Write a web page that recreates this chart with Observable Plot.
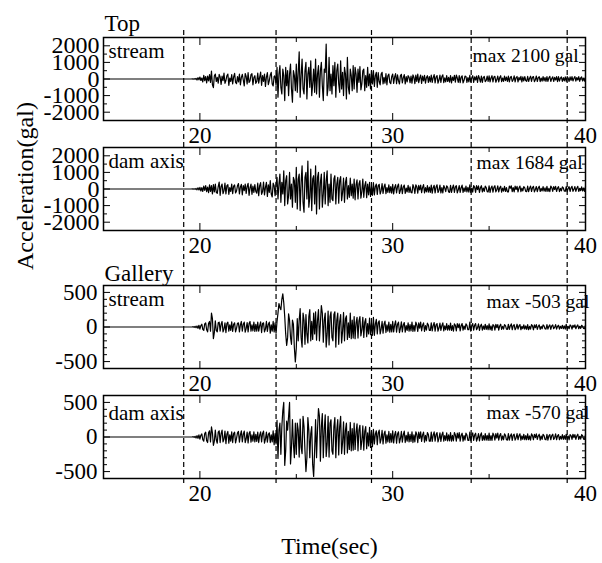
<!DOCTYPE html>
<html><head><meta charset="utf-8">
<script src="https://cdn.jsdelivr.net/npm/d3@7"></script>
<script src="https://cdn.jsdelivr.net/npm/@observablehq/plot@0.6"></script>
<style>
html,body{margin:0;padding:0;background:#fff;}
#chart{position:relative;width:602px;height:563px;font-family:"Liberation Serif","Times New Roman",serif;}
#chart svg{position:absolute;left:0;top:0;font-family:"Liberation Serif","Times New Roman",serif;}
</style></head><body><div id="chart"></div>
<script>
// time axis: leading quiet point at 15 s, then samples from t0 every dt (s)
const tStart = 15, t0 = 19.5, dt = 0.05;
const xLabelTicks = [20, 30, 40];
const xMinorTicks = [25, 35];
const markerTimes = [19.16, 23.95, 28.9, 34.07, 39.05];

const topLabels = [2000, 1000, 0, -1000, -2000];
const topMajor = [-2000, -1000, 0, 1000, 2000];
const topMinor = [-1500, -500, 500, 1500];
const galLabels = [500, 0, -500];
const galMajor = [-500, 0, 500];
const galMinor = [-400, -300, -200, -100, 100, 200, 300, 400];

// acceleration (gal), one row per second
const topStream = [
  0, 0, 5, -10, 20, -15, 40, -60, 80, -50,
  120, -90, 60, -180, 220, -100, 150, -240, 180, -120, 260, -200, 480, -350, -520, 200, 300, -150, 100, -250,
  280, 120, -320, 180, -100, 350, -260, -90, 200, 300, -380, 60, -150, 260, -300, 120, 340, -200, -280, 150,
  -180, 300, -350, 100, 280, -60, -420, 330, 150, -300, 380, -200, -120, 260, 320, -350, 90, 200, -260, -150,
  360, -250, 100, 420, -380, 200, -150, 300, -450, 120, 380, -340, -100, 250, 400, -300, -420, 150, 200, -380,
  700, -1100, 300, 800, -500, -900, 600, 200, -1300, 700, -400, 500, -1000, 300, 900, -600, -1400, 500, 200, -700,
  900, -800, 400, 1640, -1100, 200, 1200, -600, -900, 500, 1000, -1200, 300, 700, -500, 1100, -1000, -300, 600, -800,
  1200, -900, 300, 800, -1100, 500, 1000, -400, -1300, 600, 400, 2100, -1000, -500, 1300, -700, 300, -900, 800, -400,
  1000, -1100, 500, 900, -300, -800, 1100, -600, 400, -1000, 700, 300, -1200, 1300, -500, -900, 600, 200, -700, 800,
  -600, 700, 300, -800, 600, -200, 750, -650, -300, 500, 600, -700, 200, -500, 700, -400, 300, -600, 500, -300,
  500, -450, 200, 400, -500, 380, -150, -350, 300, 400, -300, 100, -250, 320, -350, 200, 300, -200, -280, 150,
  300, -260, 120, 320, -280, 250, -100, -300, 200, 280, -240, 80, 260, -300, 150, -180, 200, 100, -220, 180,
  -250, 250, 100, -280, 230, -150, 300, -220, 60, 240, -270, 180, -120, 220, -250, 90, 200, -200, 150, -180,
  240, -200, 80, 260, -230, 120, 210, -250, -60, 230, -200, 150, 250, -220, 70, -180, 200, -150, 100, -190,
  200, -230, 120, -90, 220, -190, 240, 60, -210, 200, -220, 110, 190, -230, -80, 180, 150, -200, 90, -170,
  220, -180, 70, 200, -210, 130, -60, 180, -200, 210, 40, -190, 170, -200, 100, 150, -160, -80, 180, -150,
  190, -170, 60, 200, -180, 120, 160, -190, -50, 180, -170, 90, 200, -160, 60, -140, 170, -100, 120, -150,
  170, -180, 90, 160, -150, -40, 190, -170, 80, 150, -180, 100, -60, 160, -170, 130, -120, 150, -90, -140,
  160, -150, 50, 170, -140, 110, 150, -160, -40, 180, -150, 80, 140, -160, 60, -130, 150, -110, 90, -140,
  150, -140, 70, 160, -150, 30, 130, -150, 100, -60, 140, -160, 150, -130, 50, 120, -140, 80, -110, 130,
  -140, 140, 60, -150, 130, -80, 140, -120, 40, 150, -130, 90, -60, 140, -140, 70, 130, -120, 50, -130,
  130
];
const topDam = [
  0, 0, 5, -10, 15, -20, 30, -50, 70, -60,
  100, -120, 80, -150, 180, -90, 200, -160, 120, -220, 250, -140, 200, -300, 260, -180, 300, -200, -260, 150,
  420, -380, 150, 300, -280, -100, 350, -300, 200, 260, -320, 80, -150, 300, -280, 180, 250, -240, -120, 200,
  330, -300, 120, 280, -350, 200, -100, 300, -260, 150, 340, -380, 60, 300, -320, 180, -200, 260, -150, -250,
  350, -400, 200, 380, -320, -150, 420, -360, 100, 400, -450, 250, -200, 500, -300, -480, 350, 200, -400, 300,
  700, -600, 300, 900, -800, 400, -300, 1100, -1000, 500, 800, -900, -400, 1000, -600, 300, -1100, 700, 500, -800,
  1300, -1200, 600, 900, -1300, 400, 1400, -800, -1400, 700, 1000, -600, 1684, -1100, -500, 1200, -1300, 600, 800, -900,
  1400, -1500, 700, 1000, -1200, 400, 900, -1100, -300, 1000, -900, 500, 1100, -1000, 300, -800, 900, -600, -700, 600,
  800, -900, 300, 700, -850, 500, 750, -700, -200, 650, -800, 400, 700, -600, 200, -500, 650, -400, 300, -550,
  600, -650, 250, 550, -600, 300, 500, -550, -150, 600, -500, 200, 450, -520, 300, -350, 400, -450, 150, -380,
  380, -350, 150, 300, -330, 200, 280, -300, -100, 320, -260, 120, 300, -280, 80, -200, 250, -220, 150, -250,
  280, -300, 100, 260, -240, 150, 300, -270, -80, 250, -280, 120, 240, -260, 60, -180, 220, -200, 130, -210,
  -230, 260, 90, -270, 250, 140, -250, 220, -60, 240, -220, 100, 260, -230, 80, -170, 200, -190, 120, -200,
  230, -250, 80, 220, -240, 120, 250, -210, -70, 230, -240, 90, -230, 210, 60, -160, 190, 110, -180, -200,
  220, -200, 70, 240, -210, 130, 200, -230, -50, 210, -200, 80, 230, -210, 70, -150, 180, -170, 100, -190,
  250, -210, 60, -190, 200, 110, -200, 210, -40, 190, -210, 70, 200, -180, 60, -140, 170, 90, -160, -180,
  190, -200, 60, 180, -190, 100, 200, -170, -40, 190, -180, 70, 170, -190, 50, -130, 160, -150, 80, -170,
  -170, 180, 50, 190, -160, 90, -180, 170, -30, 160, -170, 60, 180, -160, 50, -120, 150, 70, -140, -160,
  170, -160, 50, 180, -150, 80, 160, -170, -30, 150, -160, 60, 170, -150, 40, -120, 140, -130, 70, -150,
  160, -150, 40, -160, 170, 80, -140, 150, -30, 160, -150, 50, 140, -160, 40, -110, 130, 60, -120, -140,
  150, -160, 40, 140, -150, 70, 160, -140, -20, 150, -140, 50, 160, -150, 40, -100, 130, -120, 60, -140,
  140
];
const galStream = [
  0, 0, 0, 5, -5, 10, -10, 15, -20, 25,
  -30, 20, 40, -35, -50, 45, 60, -40, -70, 55, 80, -60, 200, 120, -170, -80, 90, -50, -70, 60,
  70, -60, 40, 80, -70, -30, 60, -80, 50, 70, -60, 30, -50, 75, -65, 40, 60, -70, -20, 55,
  60, -70, 30, 80, -60, 40, 70, -75, -20, 65, -70, 50, 80, -60, 30, -55, 70, -65, 40, -60,
  70, -60, 20, 75, -80, 50, 60, -70, -30, 80, -65, 40, 70, -90, 30, -60, 80, -70, 60, -90,
  80, 200, 340, 280, 250, 400, 480, 350, 150, -100, -265, -150, 190, 100, -150, -250, 100, 40, -300, -505,
  -300, 120, -200, 100, 265, -150, -290, 200, 100, -250, 180, -100, -230, 150, 250, -200, 80, -180, 200, -100,
  220, -190, 100, 250, -200, 60, 310, 200, -220, 100, 200, -290, -100, 230, -260, 150, 220, -150, -200, 180,
  220, -290, 100, 200, -250, 80, 180, -230, -60, 210, -200, 120, 160, -180, 60, -150, 200, -170, 100, -160,
  150, -170, 60, 140, -160, 90, 150, -130, -40, 140, -150, 70, 120, -140, 50, -100, 130, -110, 60, -120,
  140, -120, 40, 110, -100, 60, 90, -100, -30, 80, -90, 40, 85, -80, 30, -60, 70, -75, 40, -70,
  80, -70, 30, 90, -75, 40, 70, -80, -20, 75, -70, 30, 65, -75, 20, -50, 60, -60, 35, -55,
  70, -65, 25, -60, 70, 30, -65, 60, -15, 70, -55, 25, 60, -65, 20, -45, 55, 30, -50, -50,
  60, -55, 20, 65, -60, 30, 50, -60, -15, 55, -50, 20, 60, -55, 15, -40, 50, -45, 25, -45,
  55, -50, 20, -60, 45, 25, -55, 50, -10, 45, -55, 20, 50, -45, 15, -35, 45, 25, -40, -40,
  70, -60, 20, 50, -45, 25, 50, -40, -10, 45, -50, 15, 40, -45, 15, -35, 40, -35, 20, -40,
  45, -40, 15, -50, 35, 20, -45, 40, -10, 35, -45, 15, 40, -35, 10, -30, 35, 20, -30, -35,
  40, -35, 15, 45, -40, 20, 35, -40, -10, 40, -30, 15, 35, -40, 10, -25, 30, -30, 15, -35,
  35, -40, 10, -30, 35, 15, -40, 30, -10, 35, -35, 10, 30, -35, 10, -25, 30, 15, -25, -30,
  35, -30, 10, 30, -35, 15, 30, -25, -5, 35, -30, 10, 25, -30, 10, -20, 25, -25, 15, -30,
  40, -30, 10, -25, 30, 15, -30, 25, -5, 30, -25, 10, 30, -25, 10, -20, 25, 10, -20, -25,
  25
];
const galDam = [
  0, 0, 0, 5, -5, 10, -15, 20, -20, 30,
  -30, 25, 45, -40, -60, 50, 70, -55, -80, 60, 90, -70, 145, 60, -120, -60, 100, -40, -90, 70,
  90, -80, 50, 100, -70, -30, 85, -95, 40, 80, -90, 30, -60, 75, -80, 50, 70, -85, -20, 60,
  80, -75, 30, 90, -70, 40, 85, -80, -25, 70, -85, 50, 80, -75, 30, -60, 75, -70, 40, -65,
  70, -80, 25, 75, -70, 50, 85, -90, -30, 70, -75, 40, 60, -80, 30, -70, 90, -110, 50, -100,
  240, -310, 100, 200, -250, 150, 380, 500, -410, -200, 230, 100, 300, 500, -390, -150, 250, -100, -300, 200,
  -250, 200, 100, -290, 260, -150, -240, 300, 150, -200, -500, -300, 280, 100, -300, 50, 150, -400, -570, -200,
  250, -300, 100, 410, 300, -350, 150, 340, -300, 100, 320, -280, -100, 300, -290, 200, 250, -200, -250, 150,
  280, -300, 100, 250, -260, 150, 300, -240, -80, 220, -250, 100, 200, -230, 80, -180, 210, -200, 120, -190,
  200, -180, 70, 190, -200, 100, 170, -180, -50, 160, -190, 80, 150, -170, 60, -130, 140, -150, 80, -140,
  110, -100, 40, 90, -110, 60, 100, -90, -30, 95, -100, 40, 85, -90, 30, -70, 80, -80, 50, -75,
  90, -85, 30, 80, -90, 45, 75, -85, -25, 80, -75, 35, 85, -80, 25, -60, 70, -70, 40, -65,
  75, -80, 30, -70, 75, 40, -80, 70, -20, 75, -65, 30, 70, -75, 25, -55, 65, 35, -60, -60,
  70, -65, 25, 75, -60, 35, 65, -70, -20, 60, -65, 30, 70, -60, 20, -50, 60, -55, 30, -55,
  65, -60, 25, -55, 65, 30, -60, 55, -15, 65, -60, 25, 55, -60, 20, -45, 55, 30, -50, -50,
  70, -55, 20, 60, -50, 30, 55, -60, -15, 50, -55, 25, 60, -50, 20, -45, 50, -45, 25, -50,
  55, -50, 20, -50, 55, 25, -45, 50, -15, 55, -45, 20, 50, -45, 15, -40, 45, 25, -40, -45,
  50, -45, 15, 45, -50, 25, 40, -45, -10, 50, -40, 20, 45, -45, 15, -35, 40, -40, 20, -40,
  45, -40, 15, -45, 45, 20, -40, 40, -10, 45, -35, 15, 40, -45, 15, -35, 40, 20, -35, -40,
  40, -45, 15, 35, -40, 20, 40, -35, -10, 45, -40, 15, 35, -40, 10, -30, 35, -35, 20, -35,
  40, -35, 15, -40, 35, 20, -35, 40, -10, 35, -35, 15, 40, -35, 10, -30, 35, 20, -30, -35,
  35
];

const W = 602, H = 563, ML = 103, MR = 17;
const FONT = "'Liberation Serif', 'Times New Roman', serif";
const root = document.getElementById("chart");

function panel(o) {
  const data = [{t: tStart, a: 0}, ...o.values.map((a, i) => ({t: +(t0 + i * dt).toFixed(2), a}))];
  const blank = () => "";
  const marks = [
    Plot.axisX(xLabelTicks, {anchor: "bottom", tickSize: 0, tickPadding: 6, fontSize: 23, fontFamily: FONT, tickFormat: d => String(d), label: null}),
    Plot.axisX(xLabelTicks, {anchor: "bottom", tickSize: -7, tickFormat: blank, label: null}),
    Plot.axisX(xMinorTicks, {anchor: "bottom", tickSize: -4, tickFormat: blank, label: null}),
    Plot.axisX(xLabelTicks, {anchor: "top", tickSize: -7, tickFormat: blank, label: null}),
    Plot.axisX(xMinorTicks, {anchor: "top", tickSize: -4, tickFormat: blank, label: null}),
    Plot.axisY(o.yLabels, {anchor: "left", tickSize: 0, tickPadding: o.pad, fontSize: o.yFont, fontFamily: FONT, tickFormat: d => String(d), label: null}),
    Plot.axisY(o.yMajor, {anchor: "left", tickSize: -7, tickFormat: blank, label: null}),
    Plot.axisY(o.yMinor, {anchor: "left", tickSize: -4, tickFormat: blank, label: null}),
    Plot.axisY(o.yMajor, {anchor: "right", tickSize: -7, tickFormat: blank, label: null}),
    Plot.axisY(o.yMinor, {anchor: "right", tickSize: -4, tickFormat: blank, label: null}),
    Plot.lineY(data, {x: "t", y: "a", stroke: "black", strokeWidth: 1.2}),
    Plot.frame({stroke: "black", strokeWidth: 1.5}),
    Plot.text([o.name], {frameAnchor: "top-left", dx: 5, dy: o.nameDy, lineAnchor: "bottom", textAnchor: "start", fontSize: 21, fontFamily: FONT}),
    Plot.text([o.max], {frameAnchor: "top-right", dx: o.maxDx, dy: o.maxDy, lineAnchor: "bottom", textAnchor: "start", fontSize: 19.5, fontFamily: FONT})
  ];
  if (o.group) marks.push(Plot.text([o.group], {frameAnchor: "top-left", dx: 1, dy: o.groupDy, lineAnchor: "bottom", textAnchor: "start", fontSize: 23, fontFamily: FONT}));
  return Plot.plot({
    width: W, height: H, marginLeft: ML, marginRight: MR, marginTop: o.top, marginBottom: H - o.bottom,
    style: `background: transparent; font-family: ${FONT}; font-size: 23px; overflow: visible; color: black;`,
    x: {domain: [15, 40]},
    y: {domain: o.yDomain},
    marks
  });
}

const panels = [
  {values: topStream, yDomain: [-2500, 2500], yLabels: topLabels, yMajor: topMajor, yMinor: topMinor, yFont: 24, pad: 4,
   name: "stream", max: "max 2100 gal", group: "Top", groupDy: -7, top: 37, bottom: 120, nameDy: 20, maxDy: 24, maxDx: -113},
  {values: topDam, yDomain: [-2500, 2500], yLabels: topLabels, yMajor: topMajor, yMinor: topMinor, yFont: 24, pad: 4,
   name: "dam axis", max: "max 1684 gal", top: 147, bottom: 230, nameDy: 20, maxDy: 21, maxDx: -109},
  {values: galStream, yDomain: [-600, 600], yLabels: galLabels, yMajor: galMajor, yMinor: galMinor, yFont: 23, pad: 6,
   name: "stream", max: "max -503 gal", group: "Gallery", groupDy: -5, top: 285, bottom: 368, nameDy: 20, maxDy: 22, maxDx: -99},
  {values: galDam, yDomain: [-600, 600], yLabels: galLabels, yMajor: galMajor, yMinor: galMinor, yFont: 23, pad: 6,
   name: "dam axis", max: "max -570 gal", top: 395, bottom: 478, nameDy: 24, maxDy: 23, maxDx: -99}
];
for (const p of panels) root.appendChild(panel(p));

root.appendChild(Plot.plot({
  width: W, height: H, marginLeft: ML, marginRight: MR, marginTop: 30, marginBottom: 78,
  style: `background: transparent; font-family: ${FONT}; overflow: visible; color: black; pointer-events: none;`,
  x: {domain: [15, 40], axis: null},
  marks: [
    Plot.ruleX(markerTimes, {stroke: "black", strokeWidth: 1.2, strokeDasharray: "5,3"}),
    Plot.text(["Time(sec)"], {frameAnchor: "bottom", dx: -15, dy: 68, lineAnchor: "bottom", fontSize: 24, fontFamily: FONT}),
    Plot.text(["Acceleration(gal)"], {frameAnchor: "left", rotate: -90, dx: -78, dy: 12, fontSize: 24, fontFamily: FONT})
  ]
}));
</script></body></html>
